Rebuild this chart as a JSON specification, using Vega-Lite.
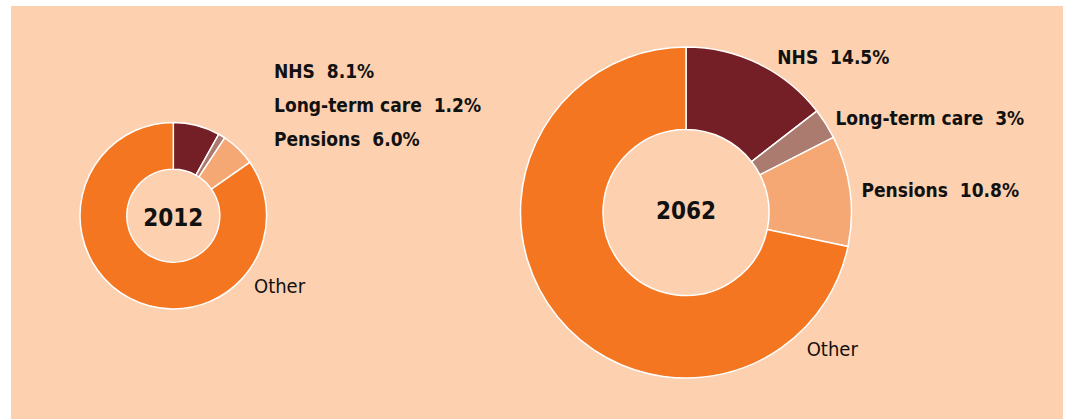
{
  "$schema": "https://vega.github.io/schema/vega-lite/v6.json",
  "width": 1052,
  "height": 413,
  "padding": {"left": 11, "top": 6, "right": 4, "bottom": 0},
  "background": "#ffffff",
  "config": {"view": {"stroke": null, "fill": "#FDD0AF"}, "text": {"font": "DejaVu Sans Condensed", "color": "#111111"}},
  "data": {"values": [
    {"year": "2012", "category": "NHS", "share": 8.1, "label": "NHS \u00a08.1%"},
    {"year": "2012", "category": "Long-term care", "share": 1.2, "label": "Long-term care \u00a01.2%"},
    {"year": "2012", "category": "Pensions", "share": 6.0, "label": "Pensions \u00a06.0%"},
    {"year": "2012", "category": "Other", "share": 84.7, "label": "Other"},
    {"year": "2062", "category": "NHS", "share": 14.5, "label": "NHS \u00a014.5%"},
    {"year": "2062", "category": "Long-term care", "share": 3, "label": "Long-term care \u00a03%"},
    {"year": "2062", "category": "Pensions", "share": 10.8, "label": "Pensions \u00a010.8%"},
    {"year": "2062", "category": "Other", "share": 71.7, "label": "Other"}
  ]},
  "transform": [{"window": [{"op": "row_number", "as": "rank"}]}],
  "encoding": {
    "x": {"field": "year", "type": "nominal", "axis": null,
          "scale": {"type": "point", "domain": ["2012", "2062"], "padding": 0.52594, "align": 0.30095}}
  },
  "layer": [
    {
      "transform": [{"filter": "datum.year === '2012'"}],
      "mark": {"type": "arc", "innerRadius": 46.5, "outerRadius": 93.3, "stroke": "#ffffff", "strokeWidth": 1.5, "yOffset": 3.2},
      "encoding": {
        "theta": {"field": "share", "type": "quantitative", "stack": true},
        "order": {"field": "rank", "type": "quantitative"},
        "color": {"field": "category", "type": "nominal", "legend": null,
                  "scale": {"domain": ["NHS", "Long-term care", "Pensions", "Other"], "range": ["#741F25", "#AA7B6E", "#F6A874", "#F47621"]}}
      }
    },
    {
      "transform": [{"filter": "datum.year === '2062'"}],
      "mark": {"type": "arc", "innerRadius": 83, "outerRadius": 165.5, "stroke": "#ffffff", "strokeWidth": 1.5},
      "encoding": {
        "theta": {"field": "share", "type": "quantitative", "stack": true},
        "order": {"field": "rank", "type": "quantitative"},
        "color": {"field": "category", "type": "nominal", "legend": null}
      }
    },
    {
      "transform": [{"filter": "datum.year === '2012' && datum.category === 'NHS'"}],
      "mark": {"type": "text", "fontSize": 24, "fontWeight": "bold", "align": "center", "baseline": "alphabetic", "dy": 13.5},
      "encoding": {"text": {"field": "year", "type": "nominal"}}
    },
    {
      "transform": [{"filter": "datum.year === '2062' && datum.category === 'NHS'"}],
      "mark": {"type": "text", "fontSize": 24, "fontWeight": "bold", "align": "center", "baseline": "alphabetic", "dy": 6.8},
      "encoding": {"text": {"field": "year", "type": "nominal"}}
    },
    {
      "transform": [{"filter": "datum.year === '2062' && datum.category !== 'Other'"}],
      "mark": {"type": "text", "fontSize": 19, "fontWeight": "bold", "align": "left", "baseline": "middle", "radius": 177, "dy": 1.5},
      "encoding": {
        "theta": {"field": "share", "type": "quantitative", "stack": true},
        "order": {"field": "rank", "type": "quantitative"},
        "detail": {"field": "category", "type": "nominal"},
        "text": {"condition": {"test": "datum.category === 'NHS'", "value": ""}, "field": "label", "type": "nominal"}
      }
    },
    {
      "transform": [{"filter": "datum.year === '2062' && datum.category === 'NHS'"}],
      "mark": {"type": "text", "fontSize": 19, "fontWeight": "bold", "align": "left", "baseline": "middle", "radius": 177, "dx": 13.4, "dy": 4},
      "encoding": {
        "theta": {"field": "share", "type": "quantitative", "stack": true},
        "order": {"field": "rank", "type": "quantitative"},
        "detail": {"field": "category", "type": "nominal"},
        "text": {"field": "label", "type": "nominal"}
      }
    },
    {
      "transform": [{"filter": "datum.year === '2012' && datum.category !== 'Other'"}],
      "mark": {"type": "text", "fontSize": 19, "fontWeight": "bold", "align": "left", "baseline": "alphabetic", "dx": 100.7},
      "encoding": {
        "y": {"field": "category", "type": "nominal", "axis": null,
              "scale": {"type": "point", "domain": ["NHS", "Long-term care", "Pensions"], "padding": 0, "range": [72.3, 140]}},
        "text": {"field": "label", "type": "nominal"}
      }
    },
    {
      "transform": [{"filter": "datum.year === '2012' && datum.category === 'Other'"}],
      "mark": {"type": "text", "fontSize": 20, "align": "left", "baseline": "alphabetic", "dx": 80.7, "dy": 80.2},
      "encoding": {"text": {"field": "label", "type": "nominal"}}
    },
    {
      "transform": [{"filter": "datum.year === '2062' && datum.category === 'Other'"}],
      "mark": {"type": "text", "fontSize": 20, "align": "left", "baseline": "alphabetic", "dx": 120.7, "dy": 143.5},
      "encoding": {"text": {"field": "label", "type": "nominal"}}
    }
  ]
}
